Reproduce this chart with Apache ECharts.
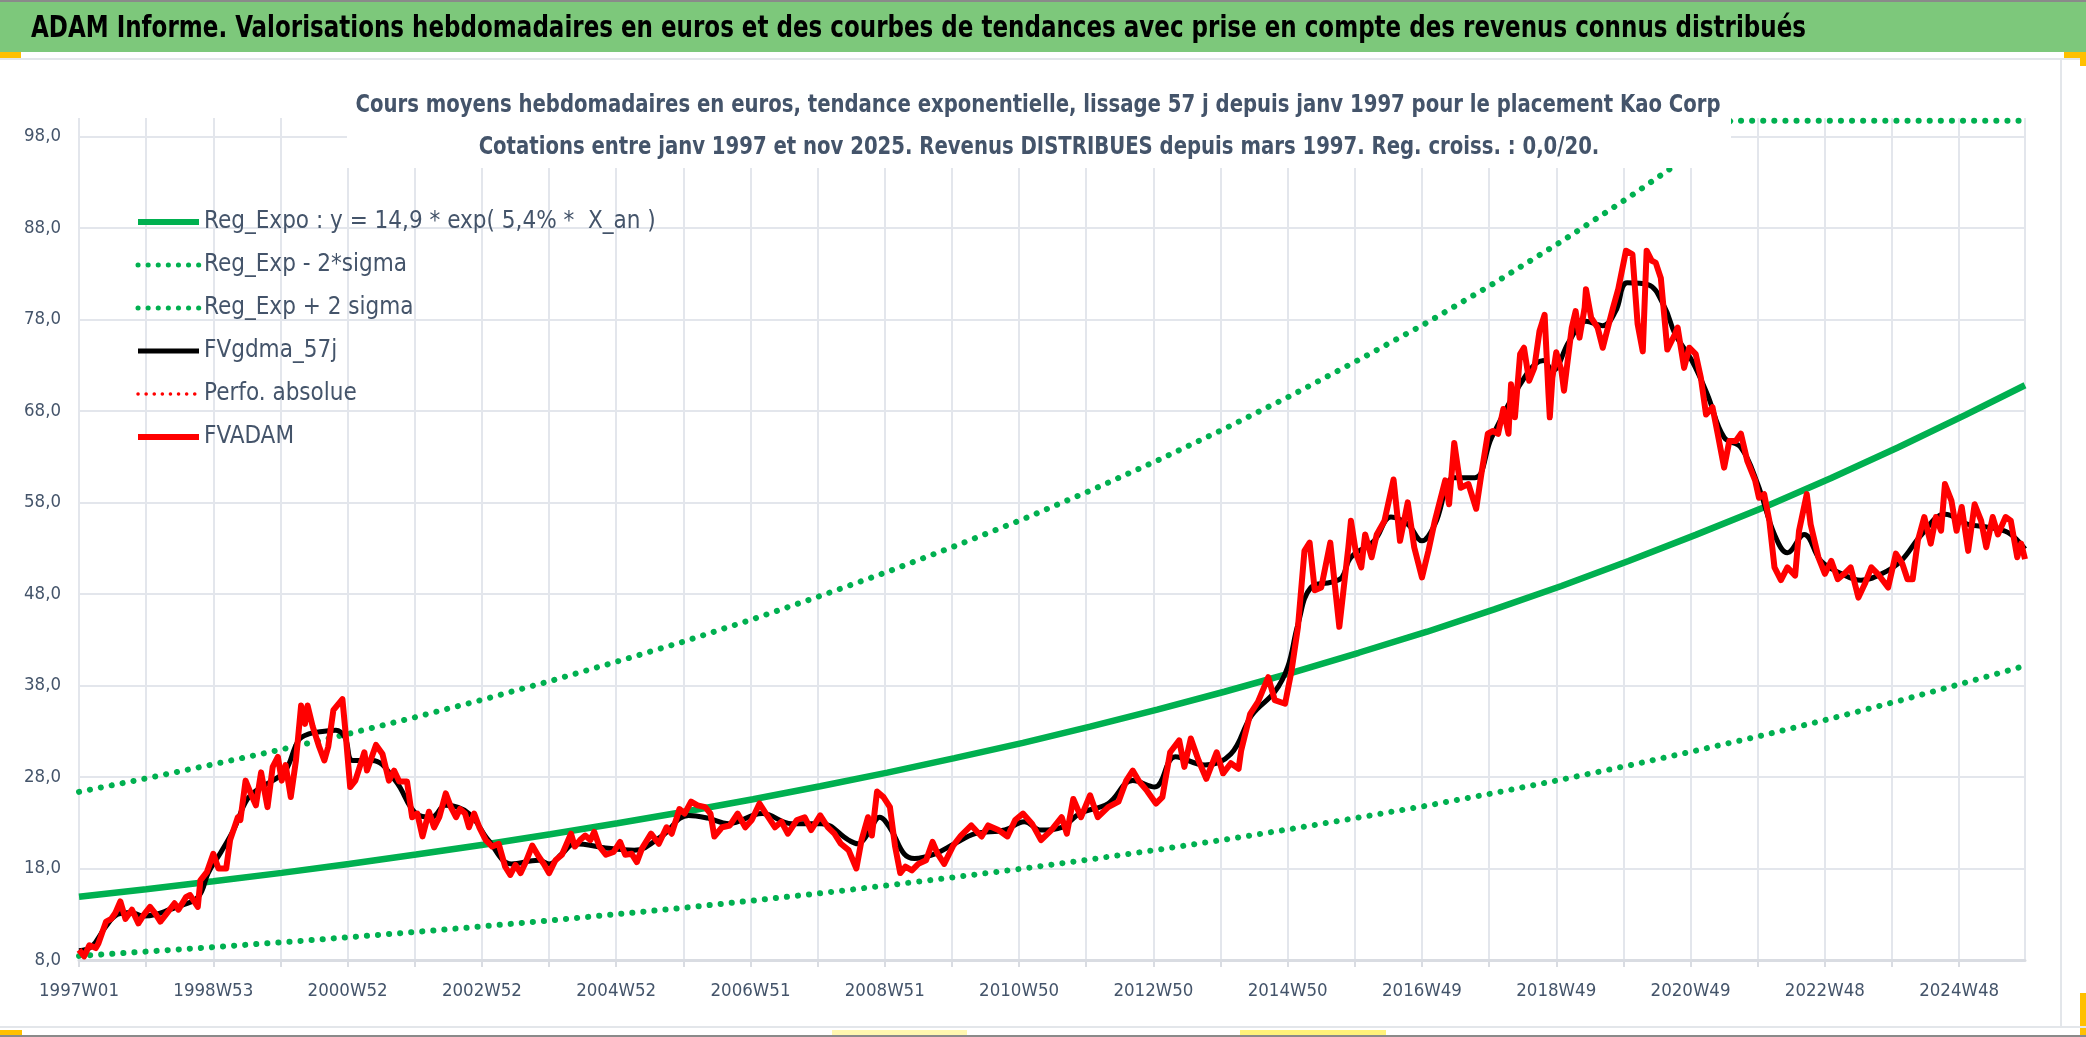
<!DOCTYPE html>
<html><head><meta charset="utf-8">
<script src="https://cdn.jsdelivr.net/npm/echarts@6/dist/echarts.min.js"></script>
<style>html,body{margin:0;padding:0;background:#fff}#c{width:2086px;height:1037px}</style>
</head><body><div id="c"></div>
<script>
const FONT = '"DejaVu Sans Condensed","Liberation Sans",sans-serif';

const headerText = 'ADAM Informe. Valorisations hebdomadaires en euros et des courbes de tendances avec prise en compte des revenus connus distribués';
const subLine1 = 'Cours moyens hebdomadaires en euros, tendance exponentielle, lissage 57 j depuis janv 1997 pour le placement Kao Corp';
const subLine2 = 'Cotations entre janv 1997 et nov 2025. Revenus DISTRIBUES depuis mars 1997. Reg. croiss. : 0,0/20.';

const weekLabels = ['1997W01','1998W53','2000W52','2002W52','2004W52','2006W51','2008W51','2010W50','2012W50','2014W50','2016W49','2018W49','2020W49','2022W48','2024W48'];
const lastWeek = 1507;

const seriesNames = ['Reg_Expo : y = 14,9 * exp( 5,4% *  X_an )','Reg_Exp - 2*sigma','Reg_Exp + 2 sigma','FVgdma_57j','Perfo. absolue','FVADAM'];

const regWeeks = [0,52,104,157,209,261,313,365,417,470,522,574,626,678,731,783,835,887,939,991,1044,1096,1148,1200,1252,1305,1357,1409,1461,1507];
const regExpo  = [14.90,15.73,16.60,17.52,18.49,19.52,20.60,21.74,22.95,24.22,25.57,26.99,28.48,30.06,31.73,33.49,35.35,37.31,39.38,41.57,43.87,46.31,48.87,51.59,54.45,57.47,60.66,64.02,67.57,70.80];
const regLow   = [8.45,8.92,9.41,9.93,10.49,11.07,11.68,12.33,13.01,13.73,14.50,15.30,16.15,17.05,17.99,18.99,20.04,21.15,22.33,23.57,24.87,26.25,27.71,29.25,30.87,32.58,34.39,36.30,38.31,40.14];
const highWeeks = [0,52,104,157,209,261,313,365,417,470,522,574,626,678,731,783,835,887,939,991,1044,1096,1148,1200,1252,1279,1305,1357,1409,1461,1507];
const regHigh  = [26.37,27.84,29.38,31.01,32.73,34.55,36.46,38.49,40.62,42.87,45.25,47.77,50.41,53.21,56.16,59.28,62.57,66.04,69.70,73.57,77.65,81.96,86.51,91.31,96.37,99.7,99.7,99.7,99.7,99.7,99.7];

const fvadam = [[0,9.1],[4,8.4],[8,9.6],[13,9.3],[15,9.8],[21,12.2],[25,12.5],[28,13.1],[32,14.4],[36,12.5],[41,13.5],[46,12.0],[50,12.9],[55,13.8],[59,13.1],[63,12.2],[68,13.1],[74,14.2],[77,13.5],[83,14.9],[86,15.1],[92,13.8],[94,16.7],[99,17.6],[104,19.6],[108,18.0],[114,18.0],[117,21.1],[123,23.6],[125,23.3],[129,27.6],[133,26.2],[137,24.9],[141,28.5],[146,24.7],[150,29.1],[154,30.2],[157,27.6],[160,29.3],[164,25.8],[168,29.8],[172,35.8],[175,33.8],[177,35.8],[181,33.5],[186,31.3],[190,29.8],[193,31.3],[197,35.3],[204,36.5],[206,33.5],[210,26.9],[214,27.6],[221,30.7],[223,28.7],[230,31.5],[235,30.5],[240,27.6],[244,28.7],[248,27.5],[254,27.5],[258,23.6],[262,24.0],[266,21.5],[271,24.2],[275,22.5],[279,23.6],[284,26.2],[288,24.7],[292,23.6],[295,24.5],[299,24.0],[302,22.5],[306,24.0],[310,22.5],[315,21.1],[320,20.4],[325,20.7],[330,18.2],[334,17.3],[338,18.4],[342,17.5],[346,18.7],[351,20.5],[356,19.3],[360,18.5],[364,17.5],[369,18.9],[374,19.5],[381,21.8],
[384,20.4],[388,21.1],[392,21.6],[396,21.1],[399,22.0],[403,20.4],[408,19.5],[414,19.8],[419,20.9],[423,19.5],[428,19.6],[432,18.7],[436,20.2],[443,21.8],[449,20.7],[455,22.5],[459,21.8],[465,24.5],[469,24.0],[474,25.3],[479,24.9],[485,24.7],[489,24.0],[492,21.5],[498,22.5],[504,22.7],[510,24.0],[516,22.5],[521,23.3],[527,25.1],[532,24.0],[539,22.5],[544,23.1],[549,21.8],[556,23.3],[562,23.6],[567,22.2],[574,23.8],[580,22.5],[585,21.8],[590,20.7],[596,20.0],[602,18.0],[606,21.1],[611,23.6],[614,21.6],[618,26.4],[623,25.8],[628,24.7],[632,20.4],[636,17.5],[640,18.2],[645,17.8],[650,18.5],[656,18.9],[661,20.9],[665,19.6],[670,18.5],[677,20.5],[683,21.6],[691,22.7],[699,21.5],[704,22.7],[712,22.2],[719,21.5],[725,23.3],[731,24.0],[738,22.9],[745,21.1],[753,22.2],[761,23.6],[765,21.8],[770,25.6],
[776,23.6],[783,26.0],[789,23.6],[797,24.7],[805,25.3],[811,27.6],[816,28.7],[821,27.5],[827,26.5],[834,25.1],[839,25.8],[845,30.7],[852,32.0],[856,29.1],[861,32.2],[867,29.8],[873,27.8],[881,30.7],[886,28.4],[892,29.5],[898,28.9],[900,30.9],[907,34.9],[913,36.2],[921,38.9],[926,36.4],[934,36.0],[939,39.6],[944,44.4],[949,52.7],[953,53.6],[957,48.4],[962,48.7],[969,53.6],[976,44.4],[983,53.1],[985,56.0],[989,52.4],[993,50.9],[996,54.5],[1001,52.0],[1005,54.5],[1011,56.0],[1018,60.5],[1023,53.8],[1029,58.0],[1034,53.1],[1040,49.8],[1045,52.7],[1050,56.0],[1058,60.4],[1061,57.8],[1065,64.5],[1070,59.6],[1076,60.0],[1082,57.3],[1086,61.1],
[1091,65.5],[1095,65.8],[1099,65.5],[1103,68.2],[1107,65.5],[1109,70.9],[1112,67.3],[1116,74.2],[1119,74.9],[1123,71.3],[1127,72.7],[1131,76.7],[1135,78.5],[1138,69.8],[1139,67.3],[1141,71.6],[1144,74.4],[1148,72.4],[1150,70.2],[1156,77.1],[1159,78.9],[1162,76.0],[1166,79.3],[1167,81.3],[1171,78.2],[1176,77.1],[1180,74.9],[1184,77.1],[1188,79.3],[1192,81.3],
[1198,85.5],[1203,85.1],[1207,77.5],[1211,74.5],[1214,85.5],[1218,84.4],[1221,84.2],[1225,82.5],[1230,74.7],[1236,76.4],[1238,77.1],[1243,72.7],[1247,74.9],[1252,74.2],[1256,71.6],[1260,67.6],[1265,68.4],[1269,65.5],[1274,61.8],[1278,64.7],[1283,64.7],[1287,65.5],[1292,62.5],[1298,60.4],[1301,58.5],[1305,58.9],[1309,56.0],[1313,50.9],[1318,49.5],[1323,50.9],[1329,50.0],[1332,54.9],[1338,58.9],[1341,55.6],[1347,52.0],[1352,50.2],[1357,51.6],[1362,49.6],[1367,50.2],[1372,50.9],[1378,47.6],[1383,49.1],[1388,50.9],[1393,50.2],[1401,48.7],[1407,52.4],[1412,51.3],[1416,49.6],[1420,49.6],[1424,53.8],[1429,56.4],[1434,53.5],[1438,56.4],[1442,54.9],[1445,60.0],[1450,58.2],[1454,54.9],[1458,57.5],[1463,52.7],[1468,57.8],[1473,56.0],[1477,53.1],[1482,56.4],[1486,54.5],[1492,56.4],[1496,56.0],[1501,52.0],[1504,53.5],[1507,51.8]];

const fvgdma = [[0,9.0],[10,9.5],[20,11.5],[30,13.0],[40,13.2],[50,12.8],[60,13.0],[70,13.5],[80,14.0],[90,14.6],[95,15.5],[100,17.5],[110,19.8],[120,22.3],[130,25.5],[140,26.8],[150,27.6],[160,28.7],[170,32.0],[178,32.7],[190,33.0],[199,33.1],[206,32.3],[212,29.8],[227,29.8],[245,27.6],[261,24.0],[273,23.6],[284,24.9],[302,24.0],[317,21.1],[335,18.5],[356,18.9],[364,18.5],[374,19.6],[384,20.7],[410,20.2],[430,20.0],[451,21.5],[472,23.8],[487,23.5],[503,22.9],[529,24.0],[552,22.9],[575,22.9],[596,21.1],[603,20.7],[611,21.8],[620,23.6],[629,22.2],[639,19.6],[647,19.1],[663,19.6],[678,20.7],[694,21.8],[717,22.2],[732,23.1],[745,22.2],[761,22.5],[775,24.0],[797,25.1],[816,27.6],[833,26.9],[849,30.2],[872,29.3],[892,30.5],[908,34.7],[926,37.3],[936,40.0],[944,44.7],[954,48.7],[970,49.3],[978,49.8],[985,52.0],[1003,53.8],[1016,56.4],[1029,55.6],[1040,53.8],[1050,55.6],[1065,60.7],[1081,60.7],[1094,65.1],[1121,72.0],[1134,73.5],[1141,72.4],[1154,75.6],[1167,77.8],[1180,77.3],[1190,78.9],[1199,82.0],[1215,81.8],[1228,79.3],[1236,76.4],[1249,73.5],[1261,69.8],[1274,65.1],[1287,64.0],[1300,60.0],[1313,54.5],[1323,52.5],[1336,54.5],[1349,51.6],[1365,50.2],[1380,49.5],[1396,50.2],[1411,51.6],[1427,54.5],[1445,56.7],[1463,55.6],[1478,55.3],[1494,54.7],[1507,52.9]];

const perfoAbsolue = [];

const pair = (ws, vs) => ws.map((w, i) => [w, vs[i]]);
const GREEN = '#00B050';
const TXT = '#44546A';
const dots = [0.1, 11];

// text measurement to emulate the narrow font of the reference
const mctx = document.createElement('canvas').getContext('2d');
function textW(str, size, weight) {
  mctx.font = (weight || 'normal') + ' ' + size + 'px ' + FONT;
  return mctx.measureText(str).width;
}
const headerScale = Math.min(1, 1775 / textW(headerText, 30, 'bold'));
const subScale = Math.min(1, 1365 / textW(subLine1, 25, 'bold'));
const legendSize = Math.min(27, 27 * 452 / textW(seriesNames[0], 27));
const xLabSize = Math.min(23, 23 * 80 / textW('1997W01', 23));
const yLabSize = Math.min(22, 22 * 37 / textW('98,0', 22));

const chart = echarts.init(document.getElementById('c'), null, {renderer: 'canvas'});
chart.setOption({
  animation: false,
  backgroundColor: '#fff',
  graphic: [
    {type: 'rect', z: 0, shape: {x: 0, y: 0, width: 2086, height: 52}, style: {fill: '#7DC87B'}},
    {type: 'rect', z: 0, shape: {x: 0, y: 0, width: 2086, height: 2}, style: {fill: '#8A8A8A'}},
    {type: 'rect', z: 0, shape: {x: 0, y: 58, width: 2086, height: 2}, style: {fill: '#E3E6EA'}},
    {type: 'rect', z: 0, shape: {x: 0, y: 52, width: 21, height: 6}, style: {fill: '#FFC000'}},
    {type: 'rect', z: 0, shape: {x: 2064, y: 52, width: 22, height: 6}, style: {fill: '#FFC000'}},
    {type: 'rect', z: 0, shape: {x: 2080, y: 52, width: 6, height: 14}, style: {fill: '#FFC000'}},
    {type: 'rect', z: 0, shape: {x: 2080, y: 993, width: 6, height: 44}, style: {fill: '#FFC000'}},
    {type: 'rect', z: 0, shape: {x: 0, y: 1026, width: 2086, height: 2}, style: {fill: '#E3E6EA'}},
    {type: 'rect', z: 0, shape: {x: 0, y: 1035, width: 2086, height: 2}, style: {fill: '#8A8A8A'}},
    {type: 'rect', z: 0, shape: {x: 0, y: 1030, width: 22, height: 5}, style: {fill: '#FFC000'}},
    {type: 'rect', z: 0, shape: {x: 832, y: 1030, width: 135, height: 5}, style: {fill: '#FFF7B0'}},
    {type: 'rect', z: 0, shape: {x: 1240, y: 1030, width: 146, height: 5}, style: {fill: '#FFF27A'}},
    {type: 'rect', z: 0, shape: {x: 2060, y: 60, width: 2, height: 966}, style: {fill: '#E3E6EA'}},
    {type: 'rect', z: 5, shape: {x: 347, y: 70, width: 1384, height: 98}, style: {fill: '#fff'}},
    {type: 'text', z: 10, x: 31, y: 29, scaleX: headerScale,
     style: {text: headerText, fontFamily: FONT, fontSize: 30, fontWeight: 'bold', fill: '#000', textAlign: 'left', textVerticalAlign: 'middle'}},
    {type: 'text', z: 10, x: 1038, y: 105, scaleX: subScale,
     style: {text: subLine1, fontFamily: FONT, fontSize: 25, fontWeight: 'bold', fill: TXT, textAlign: 'center', textVerticalAlign: 'middle'}},
    {type: 'text', z: 10, x: 1039, y: 147, scaleX: subScale,
     style: {text: subLine2, fontFamily: FONT, fontSize: 25, fontWeight: 'bold', fill: TXT, textAlign: 'center', textVerticalAlign: 'middle'}}
  ],
  legend: {
    orient: 'vertical', left: 135, top: 207, padding: 0,
    itemWidth: 61, itemHeight: 14, itemGap: 13,
    itemStyle: {opacity: 0},
    textStyle: {fontFamily: FONT, fontSize: legendSize, color: TXT, lineHeight: 30},
    data: [
      {name: seriesNames[0], lineStyle: {width: 6, color: GREEN, type: 'solid'}},
      {name: seriesNames[1], lineStyle: {width: 5, color: GREEN, type: [0.1, 10], cap: 'round'}},
      {name: seriesNames[2], lineStyle: {width: 5, color: GREEN, type: [0.1, 10], cap: 'round'}},
      {name: seriesNames[3], lineStyle: {width: 5, color: '#000', type: 'solid'}},
      {name: seriesNames[4], lineStyle: {width: 3.5, color: '#FF0000', type: [0.1, 8], cap: 'round'}},
      {name: seriesNames[5], lineStyle: {width: 6, color: '#FF0000', type: 'solid'}}
    ]
  },
  grid: {left: 79, right: 61, top: 118, bottom: 77, containLabel: false},
  xAxis: {
    type: 'value', min: 0, max: lastWeek, interval: 52,
    axisLine: {show: true, lineStyle: {color: '#D9DCE2', width: 3}},
    axisTick: {show: true, length: 7, lineStyle: {color: '#D9DCE2', width: 2}},
    axisLabel: {
      margin: 22, fontFamily: FONT, fontSize: xLabSize, color: TXT, showMaxLabel: false,
      formatter: v => (v % 104 === 0 && v / 104 < weekLabels.length) ? weekLabels[v / 104] : ''
    },
    splitLine: {show: true, showMaxLine: true, lineStyle: {color: '#E3E6EC', width: 2}}
  },
  yAxis: {
    type: 'value', min: 8, max: 100, interval: 10,
    axisLine: {show: false}, axisTick: {show: false},
    axisLabel: {margin: 18, fontFamily: FONT, fontSize: yLabSize, color: TXT, showMaxLabel: false,
      formatter: v => v >= 99 ? '' : v.toFixed(1).replace('.', ',')},
    splitLine: {show: true, showMaxLine: false, lineStyle: {color: '#E3E6EC', width: 2}}
  },
  series: [
    {name: seriesNames[0], type: 'line', data: pair(regWeeks, regExpo), showSymbol: false, symbol: 'none',
     lineStyle: {color: GREEN, width: 6.5}, itemStyle: {color: GREEN}, z: 2},
    {name: seriesNames[1], type: 'line', data: pair(regWeeks, regLow), showSymbol: false, symbol: 'none',
     lineStyle: {color: GREEN, width: 6, type: dots, cap: 'round'}, itemStyle: {color: GREEN}, z: 2},
    {name: seriesNames[2], type: 'line', data: pair(highWeeks, regHigh), showSymbol: false, symbol: 'none',
     lineStyle: {color: GREEN, width: 6, type: dots, cap: 'round'}, itemStyle: {color: GREEN}, z: 2},
    {name: seriesNames[3], type: 'line', data: fvgdma, showSymbol: false, symbol: 'none', smooth: 0.4,
     lineStyle: {color: '#000', width: 5}, itemStyle: {color: '#000'}, z: 3},
    {name: seriesNames[4], type: 'line', data: perfoAbsolue, showSymbol: false, symbol: 'none',
     lineStyle: {color: '#FF0000', width: 3.5, type: [0.1, 8], cap: 'round'}, itemStyle: {color: '#FF0000'}, z: 3},
    {name: seriesNames[5], type: 'line', data: fvadam, showSymbol: false, symbol: 'none',
     lineStyle: {color: '#FF0000', width: 6, join: 'round'}, itemStyle: {color: '#FF0000'}, z: 4}
  ]
});
</script></body></html>
